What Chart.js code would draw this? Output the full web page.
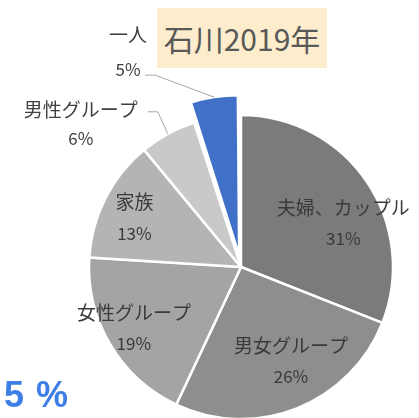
<!DOCTYPE html>
<html>
<head>
<meta charset="utf-8">
<script src="https://cdn.jsdelivr.net/npm/chart.js@4"></script>
<style>
  html, body { margin: 0; padding: 0; background: #fff; overflow: hidden; }
  #wrap { position: relative; width: 419px; height: 418px; }
  #pie { position: absolute; left: 0; top: 0; }
  .title {
    position: absolute; left: 157px; top: 8px; width: 170px; height: 60px;
    background: #fdedcc; color: #595959;
    font: 30px "Noto Sans CJK JP", sans-serif; line-height: 60px; text-align: center;
  }
  .note {
    position: absolute; left: 4px; top: 374px;
    color: #3d7fe6; font: bold 36px "Liberation Sans", Arial, sans-serif; letter-spacing: 1px;
  }
</style>
</head>
<body>
<div id="wrap">
  <canvas id="pie" width="419" height="418"></canvas>
  <div class="title">石川2019年</div>
  <div class="note">5 %</div>
</div>
<script>
// data, clockwise from 12 o'clock
const categories = ['夫婦、カップル', '男女グループ', '女性グループ', '家族', '男性グループ', '一人'];
const shares = [31, 26, 19, 13, 6, 5];
const sliceColors = ['#7b7b7b', '#8e8e8e', '#a4a4a4', '#b4b4b4', '#c9c9c9', '#4070c8'];
const pullOut = [0, 0, 0, 0, 0, 20]; // px the slice is pulled away from the centre

const total = shares.reduce((a, b) => a + b, 0);

// Chart.js v4 moves an arc by offset/4 * (1 + fix), so turn pixels into its offset value
function arcOffset(px, share) {
    const circ = share / total * Math.PI * 2;
    const fix = 1 - Math.sin(Math.min(Math.PI, circ));
    return px * 4 / (1 + fix);
}

// inside label nudges, Excel does not sit them exactly on the bisector
const nudge = [[8, 20], [8, -12], [-9, 3], [-5, 2], [0, 0], [0, 0]];

// small slices get their labels outside with a leader line
const outside = {
    4: { shift: [-87, -10], from: [-20, -22], gap: 29 },
    5: { shift: [-86, -45], from: [-69, -22], gap: 35 }
};

const sliceLabels = {
    id: 'sliceLabels',
    afterDatasetsDraw(chart) {
        const ctx = chart.ctx;
        const meta = chart.getDatasetMeta(0);
        ctx.save();
        ctx.textAlign = 'center';
        ctx.textBaseline = 'middle';
        const nameFont = '19px "Noto Sans CJK JP", sans-serif';
        const pctFont = '17px "Noto Sans CJK JP", sans-serif';
        meta.data.forEach((arc, i) => {
            const p = arc.getProps(['x', 'y', 'startAngle', 'endAngle', 'outerRadius']);
            const mid = (p.startAngle + p.endAngle) / 2;
            const cos = Math.cos(mid), sin = Math.sin(mid);
            const pct = shares[i] + '%';
            const o = outside[i];
            if (o) {
                const r = p.outerRadius + pullOut[i];
                const ex = p.x + r * cos, ey = p.y + r * sin;
                const sx = ex + o.from[0], sy = ey + o.from[1];
                ctx.strokeStyle = '#a6a6a6';
                ctx.lineWidth = 1;
                ctx.beginPath();
                ctx.moveTo(sx, sy);
                ctx.lineTo(sx + 10, sy);
                ctx.lineTo(ex, ey);
                ctx.stroke();
                const lx = ex + o.shift[0], ly = ey + o.shift[1];
                ctx.fillStyle = '#404040';
                ctx.font = nameFont;
                ctx.fillText(categories[i], lx, ly - o.gap / 2);
                ctx.font = pctFont;
                ctx.fillText(pct, lx, ly + o.gap / 2);
            } else {
                const r = p.outerRadius * 0.75;
                const lx = p.x + r * cos + nudge[i][0], ly = p.y + r * sin + nudge[i][1];
                ctx.fillStyle = '#3a3a3a';
                ctx.font = nameFont;
                ctx.fillText(categories[i], lx, ly - 15);
                ctx.font = pctFont;
                ctx.fillText(pct, lx, ly + 16);
            }
        });
        ctx.restore();
    }
};

new Chart(document.getElementById('pie'), {
    type: 'pie',
    data: {
        labels: categories,
        datasets: [{
            data: shares,
            backgroundColor: sliceColors,
            borderColor: '#ffffff',
            borderWidth: 2.5,
            offset: pullOut.map((px, i) => arcOffset(px, shares[i]))
        }]
    },
    options: {
        responsive: false,
        animation: false,
        radius: 152,
        layout: { padding: { left: 91, right: 28, top: 117, bottom: 1 } },
        plugins: {
            legend: { display: false },
            tooltip: { enabled: false }
        }
    },
    plugins: [sliceLabels]
});
</script>
</body>
</html>
